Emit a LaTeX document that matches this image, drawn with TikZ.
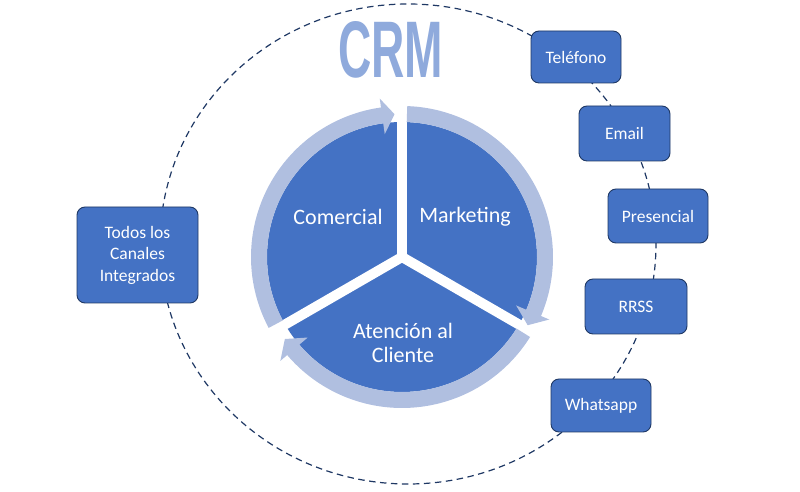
\documentclass[tikz,border=0pt]{standalone}
\usepackage{fontspec}
\setmainfont{Carlito}
\newfontfamily\crmfont{Liberation Sans}
\usepackage{graphicx}
\definecolor{pieblue}{HTML}{4472C4}
\definecolor{bandc}{HTML}{B0BFE0}
\definecolor{navy}{HTML}{1F3864}
\definecolor{crmc}{HTML}{8FAADC}
\tikzset{
  chanbox/.style={draw=navy, line width=0.9pt, fill=pieblue, rounded corners=8pt,
    text=white, align=center, inner sep=0pt, font=\fontsize{17.5}{21.5}\selectfont},
  pietext/.style={text=white, align=center, font=\fontsize{22}{24}\selectfont},
  gapline/.style={white, line width=10pt},
  ring/.style={navy, line width=1.2pt, dash pattern=on 6.5pt off 4.5pt}
}
\newcommand{\bandarrow}[3]{%
  \fill[bandc] (#1:151) arc[start angle=#1, end angle=#2, radius=151]
    -- (#2:160) -- (#3:143) -- (#2:124) -- (#2:135)
    arc[start angle=#2, end angle=#1, radius=135] -- cycle;}
\begin{document}
\begin{tikzpicture}[x=1pt,y=1pt]
\useasboundingbox (0,0) rectangle (800,492);
% dashed ring
\draw[ring] (408,248) ellipse[x radius=248, y radius=240];
% title
\node[text=crmc, inner sep=0pt] (crm) at (390.5,442) {\resizebox{105pt}{56pt}{\crmfont\bfseries CRM}};
% pie
\begin{scope}[shift={(402,235)}]
  \fill[pieblue] (0,0) circle[radius=135];
  \draw[gapline] (0,0) -- (90:170);
  \draw[gapline] (0,0) -- (210:170);
  \draw[gapline] (0,0) -- (330:170);
  \bandarrow{208}{98}{93}
  \bandarrow{88}{-23}{-28.5}
  \bandarrow{-32}{-139.5}{-145}
\end{scope}
\node[pietext] (com) at (338,275) {Comercial};
\node[pietext] (mkt) at (465,275) {Marketing};
\node[pietext] (aten) at (403,149) {Atención al\\Cliente};
% channel boxes
\node[chanbox, minimum width=90pt, minimum height=52pt] (tel) at (576,435) {Teléfono};
\node[chanbox, minimum width=91pt, minimum height=55pt] (mail) at (624.5,358.5) {Email};
\node[chanbox, minimum width=100pt, minimum height=54pt] (pres) at (658,276) {Presencial};
\node[chanbox, minimum width=102pt, minimum height=55pt] (rrss) at (636,185.5) {RRSS};
\node[chanbox, minimum width=100pt, minimum height=53pt] (wa) at (601,86.5) {Whatsapp};
\node[chanbox, minimum width=121pt, minimum height=96pt] (todos) at (137.5,237) {Todos los\\Canales\\Integrados};
\end{tikzpicture}
\end{document}
